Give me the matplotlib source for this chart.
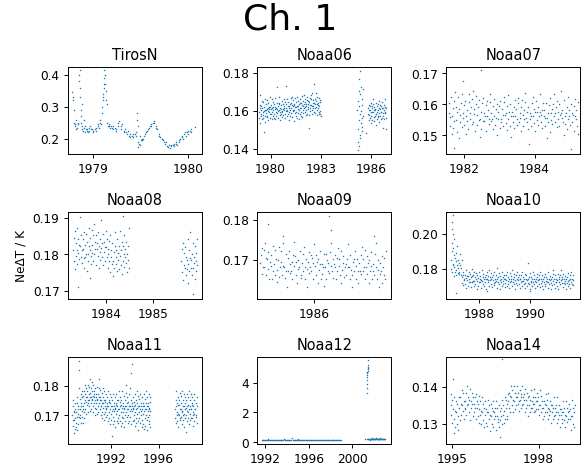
import numpy as np
import matplotlib.pyplot as plt

# NeDT values typed in mK, converted to K below.
# Each row holds the samples of one time bin, in time order.

tiros_t = [1978.79, 1978.80, 1978.81, 1978.82, 1978.84, 1978.86, 1978.87, 1978.88, 1978.89,
           1978.91, 1978.93, 1978.95, 1978.97, 1979.00, 1979.03, 1979.06, 1979.08, 1979.10,
           1979.11, 1979.12, 1979.13, 1979.14, 1979.16, 1979.18, 1979.21, 1979.24, 1979.27,
           1979.30, 1979.33, 1979.36, 1979.39, 1979.42, 1979.45, 1979.47, 1979.48, 1979.50,
           1979.52, 1979.55, 1979.58, 1979.61, 1979.64, 1979.67, 1979.70, 1979.73, 1979.76,
           1979.79, 1979.82, 1979.85, 1979.88, 1979.91, 1979.94, 1979.97, 1980.00, 1980.03,
           1980.08]
tiros_v = [[345, 330], [320, 290], [250, 245], [240, 230, 260], [235, 250, 245],
           [400, 380, 360], [415, 330, 290], [270, 250, 310], [240, 230, 225],
           [235, 260, 220], [240, 230, 225], [230, 220, 235], [225, 240, 230],
           [230, 225, 220], [230, 235, 225], [240, 245, 235], [250, 260, 245],
           [280, 300, 320], [340, 330, 360], [370, 390, 400], [415, 400, 350],
           [370, 320, 310], [250, 240, 245], [240, 235, 240], [235, 240, 230],
           [235, 225, 230], [240, 250, 255], [240, 230, 245], [225, 220, 230],
           [220, 215, 225], [210, 205, 215], [210, 205, 215], [215, 220, 210],
           [280, 260, 240], [190, 175, 185], [180, 210, 195], [200, 195, 200],
           [210, 215, 220], [225, 230, 235], [240, 245, 240], [250, 255, 248],
           [240, 235, 230], [215, 210, 205], [200, 198, 195], [190, 185, 190],
           [178, 175, 180], [172, 176, 180], [180, 185, 178], [185, 190, 180],
           [195, 190, 200], [205, 210, 200], [215, 220, 210], [220, 225, 215],
           [225, 230, 220], [237]]

noaa06_t = [1979.35, 1979.45, 1979.55, 1979.65, 1979.75, 1979.85, 1979.95, 1980.05, 1980.15,
            1980.25, 1980.35, 1980.45, 1980.55, 1980.65, 1980.75, 1980.85, 1980.95, 1981.05,
            1981.15, 1981.25, 1981.35, 1981.45, 1981.55, 1981.65, 1981.75, 1981.85, 1981.95,
            1982.05, 1982.15, 1982.25, 1982.35, 1982.45, 1982.55, 1982.65, 1982.75, 1982.85,
            1982.95, 1985.22, 1985.28, 1985.34, 1985.40, 1985.46, 1985.70, 1985.85, 1985.95,
            1986.05, 1986.15, 1986.25, 1986.35, 1986.45, 1986.55, 1986.65, 1986.75, 1986.85]
noaa06_v = [[156.4, 159.2, 161.7, 163.1, 153.6, 168.3], [158.1, 160.6, 157.3, 162.4, 165.2, 155.5],
            [161.3, 157.8, 159.4, 164.6, 156.2, 149.1], [159.7, 162.2, 160.5, 157.1, 166.4, 154.3],
            [160.2, 158.6, 163.4, 156.7, 161.1, 165.8], [157.5, 161.4, 159.9, 164.2, 155.3, 160.7],
            [162.1, 159.3, 156.4, 161.8, 167.2, 158.5], [160.8, 163.2, 158.1, 155.6, 161.5, 166.3],
            [159.4, 161.9, 164.5, 157.2, 160.3, 156.1], [163.6, 158.3, 160.7, 162.2, 155.8, 166.9],
            [161.2, 159.6, 157.4, 164.1, 160.9, 172.4], [158.7, 162.5, 160.1, 156.3, 163.8, 167.1],
            [160.4, 164.3, 159.1, 161.7, 157.6, 155.2], [162.8, 158.4, 161.1, 165.3, 159.7, 156.6],
            [159.2, 163.5, 160.8, 157.9, 162.3, 166.2], [161.6, 160.2, 164.7, 158.5, 156.4, 173.1],
            [163.3, 159.8, 161.4, 166.1, 157.5, 160.6], [160.1, 162.7, 158.3, 164.4, 161.2, 155.1],
            [162.4, 159.1, 163.8, 160.6, 157.2, 166.5], [161.5, 164.1, 158.7, 162.9, 156.8, 167.3],
            [159.8, 162.3, 165.4, 160.2, 163.7, 154.6], [163.2, 160.4, 158.6, 162.1, 166.7, 157.3],
            [161.9, 164.6, 159.2, 162.5, 156.4, 167.4], [162.3, 158.8, 165.1, 160.7, 163.3, 155.7],
            [160.6, 163.9, 161.3, 166.2, 158.1, 157.4], [164.1, 161.7, 159.5, 162.8, 167.6, 156.9],
            [162.5, 160.3, 165.2, 158.9, 163.4, 168.1], [161.2, 164.8, 159.6, 162.1, 166.3, 157.7],
            [163.7, 160.2, 162.6, 165.5, 158.4, 167.2], [162.1, 165.3, 160.8, 163.6, 157.9, 151.2],
            [164.4, 161.3, 163.1, 159.7, 166.6, 168.5], [163.2, 166.1, 160.5, 162.7, 158.3, 169.4],
            [162.6, 165.7, 161.2, 164.3, 159.5, 174.2], [164.3, 161.6, 163.8, 166.4, 158.7, 169.1],
            [162.2, 165.1, 160.4, 163.5, 167.3, 157.6], [163.1, 161.5, 164.2, 159.4, 166.8, 158.3],
            [162.7, 160.1, 164.6, 158.2, 165.4, 157.1],
            [160.3, 150.2, 143.4, 165.1, 176.6], [139.2, 155.4, 170.3, 162.6, 147.1],
            [141.3, 158.2, 168.7, 181.1, 153.4], [145.5, 160.1, 172.4, 156.3, 149.2],
            [163.2, 151.6, 166.4, 157.1, 171.3], [148.1],
            [158.3, 161.2, 155.4, 163.1, 157.6, 160.4], [160.5, 156.2, 162.7, 159.1, 164.3, 153.6],
            [157.2, 161.6, 159.4, 155.1, 162.3, 166.2], [159.6, 163.3, 156.5, 160.2, 154.4, 161.8],
            [161.1, 157.4, 160.6, 164.2, 158.3, 152.5], [158.5, 162.3, 155.6, 159.2, 163.6, 157.1],
            [160.2, 156.7, 161.3, 158.8, 165.1, 154.2], [157.4, 160.7, 163.2, 159.3, 155.5, 162.6],
            [159.1, 161.5, 156.3, 164.4, 158.6, 151.2], [161.3, 157.2, 160.5, 155.7, 163.1, 166.4],
            [158.6, 162.2, 159.4, 156.1, 161.7, 150.3]]

noaa07_t = [1981.60, 1981.70, 1981.80, 1981.90, 1982.00, 1982.10, 1982.20, 1982.30, 1982.40,
            1982.50, 1982.60, 1982.70, 1982.80, 1982.90, 1983.00, 1983.10, 1983.20, 1983.30,
            1983.40, 1983.50, 1983.60, 1983.70, 1983.80, 1983.90, 1984.00, 1984.10, 1984.20,
            1984.30, 1984.40, 1984.50, 1984.60, 1984.70, 1984.80, 1984.90, 1985.00, 1985.10,
            1985.20, 1982.48, 1981.98, 1981.70]
noaa07_v = [[157.2, 160.4, 153.1, 155.8, 162.3, 150.6], [156.3, 158.7, 152.4, 161.2, 154.6, 164.1],
            [155.1, 159.3, 157.6, 151.2, 162.4, 149.3], [158.4, 154.2, 156.7, 160.3, 152.6, 163.2],
            [155.6, 157.1, 153.4, 159.8, 161.2, 150.4], [156.2, 154.7, 158.3, 152.1, 160.6, 163.4],
            [157.3, 155.4, 159.1, 153.6, 161.7, 164.2], [154.2, 156.8, 158.4, 151.3, 160.2, 162.6],
            [156.7, 153.3, 159.2, 155.1, 161.4, 149.6], [155.3, 157.6, 152.2, 160.4, 154.8, 162.1],
            [157.1, 154.6, 156.3, 159.7, 151.4, 161.2], [156.4, 158.2, 153.7, 155.3, 160.6, 163.3],
            [154.6, 157.3, 155.2, 159.4, 152.1, 161.6], [156.1, 153.4, 158.6, 155.7, 160.2, 150.2],
            [157.4, 155.2, 159.6, 152.3, 161.1, 154.4], [155.2, 158.4, 156.6, 153.1, 160.7, 162.3],
            [156.6, 154.1, 157.3, 159.4, 151.6, 163.1], [155.4, 157.7, 153.2, 160.1, 156.3, 149.4],
            [157.6, 154.3, 156.1, 159.2, 152.4, 161.4], [156.2, 158.6, 155.3, 153.4, 160.3, 162.2],
            [154.3, 157.2, 155.6, 159.1, 151.3, 161.3], [156.5, 153.2, 158.1, 155.4, 160.6, 163.6],
            [155.7, 157.4, 154.2, 159.3, 152.2, 147.1], [157.1, 155.3, 156.4, 153.2, 160.4, 162.5],
            [156.3, 158.5, 154.1, 157.6, 151.4, 161.2], [155.1, 157.6, 153.3, 159.2, 156.4, 163.3],
            [157.4, 154.2, 156.6, 158.1, 152.5, 160.3], [156.2, 158.3, 155.6, 153.1, 160.5, 149.2],
            [155.6, 157.2, 154.3, 159.7, 151.1, 162.2], [157.3, 155.1, 158.4, 153.6, 160.2, 163.4],
            [156.1, 154.4, 157.2, 159.3, 152.6, 161.1], [155.3, 157.6, 153.2, 160.1, 156.5, 164.3],
            [157.2, 155.6, 158.1, 154.3, 161.4, 150.1], [156.4, 153.6, 157.3, 159.1, 152.2, 162.4],
            [155.2, 158.3, 156.1, 153.4, 160.2, 145.5], [157.1, 154.2, 156.7, 159.4, 151.3, 161.6],
            [156.3, 158.1, 155.4, 153.2, 160.6, 150.4], [171.0], [167.5], [146.0]]

noaa08_t = [1983.32, 1983.37, 1983.42, 1983.47, 1983.52, 1983.57, 1983.62, 1983.67, 1983.72,
            1983.77, 1983.82, 1983.87, 1983.92, 1983.97, 1984.02, 1984.07, 1984.12, 1984.17,
            1984.22, 1984.27, 1984.32, 1984.37, 1984.42, 1984.47, 1983.40, 1983.65, 1984.35,
            1985.62, 1985.67, 1985.72, 1985.77, 1985.82, 1985.87, 1985.92, 1985.85]
noaa08_v = [[181.3, 178.2, 184.6, 176.1, 186.4], [183.1, 179.6, 181.2, 187.3, 177.4],
            [180.4, 184.2, 178.7, 182.6, 190.1], [182.2, 179.3, 185.4, 177.6, 181.1],
            [181.6, 184.3, 179.1, 186.2, 176.3], [179.4, 182.7, 180.2, 185.6, 175.4],
            [183.4, 180.1, 178.3, 182.2, 187.1], [181.2, 184.6, 179.7, 177.3, 186.6],
            [182.6, 180.4, 185.2, 178.1, 188.4], [180.1, 183.3, 181.6, 177.2, 185.3],
            [183.2, 181.4, 179.6, 186.1, 176.2], [182.4, 184.1, 180.6, 178.4, 189.3],
            [181.7, 183.2, 179.3, 185.6, 177.1], [183.3, 180.6, 182.1, 178.2, 186.3],
            [182.1, 179.4, 184.3, 181.6, 176.4], [180.2, 183.6, 178.1, 185.2, 175.3],
            [179.3, 181.2, 177.4, 183.1, 174.2], [178.1, 180.6, 176.3, 182.4, 186.1],
            [177.4, 181.3, 179.2, 175.6, 184.2], [180.3, 178.4, 182.2, 176.1, 186.4],
            [179.6, 181.1, 177.2, 183.4, 174.6], [178.2, 182.4, 180.1, 176.6, 185.3],
            [181.4, 179.2, 177.6, 183.3, 175.2], [180.2, 178.6, 182.3, 176.4, 187.2],
            [171.2], [173.5], [190.5],
            [178.3, 175.2, 181.4, 173.1, 183.2], [177.2, 180.4, 176.3, 182.1, 174.3],
            [179.4, 176.1, 178.6, 184.2, 172.3], [177.3, 181.2, 175.4, 179.1, 186.2],
            [178.6, 176.3, 180.2, 174.4, 183.1], [176.2, 179.3, 177.6, 182.3, 173.2],
            [178.1, 175.6, 180.4, 177.2, 184.1], [169.2]]

noaa09_t = [1985.08, 1985.14, 1985.20, 1985.26, 1985.32, 1985.38, 1985.44, 1985.50, 1985.56,
            1985.62, 1985.68, 1985.74, 1985.80, 1985.86, 1985.92, 1985.98, 1986.04, 1986.10,
            1986.16, 1986.22, 1986.28, 1986.34, 1986.40, 1986.46, 1986.52, 1986.58, 1986.64,
            1986.70, 1986.76, 1986.82, 1986.88, 1986.94, 1987.00, 1987.06, 1987.12, 1987.18,
            1987.24, 1986.27, 1985.19, 1986.30, 1985.45, 1987.05]
noaa09_v = [[169.3, 171.2, 166.4, 173.1, 168.2], [172.4, 168.1, 174.3, 166.2, 170.6],
            [170.2, 167.6, 172.1, 165.3, 169.4], [168.6, 171.3, 165.2, 173.4, 167.1],
            [169.1, 166.3, 172.6, 170.2, 164.4], [167.4, 170.1, 165.6, 173.2, 168.3],
            [169.6, 172.2, 166.1, 168.4, 174.2], [168.2, 165.4, 171.6, 167.3, 163.2],
            [170.4, 167.2, 172.3, 166.6, 169.1], [167.1, 169.4, 165.3, 171.2, 174.4],
            [168.4, 171.1, 166.2, 169.6, 164.1], [170.1, 167.6, 168.3, 172.2, 165.4],
            [166.3, 169.2, 171.4, 167.1, 173.3], [168.1, 165.2, 170.3, 167.6, 163.3],
            [169.4, 172.1, 166.6, 168.2, 171.3], [167.2, 170.4, 165.1, 169.3, 174.1],
            [168.6, 166.1, 171.2, 169.4, 164.2], [170.3, 167.4, 169.1, 172.3, 165.2],
            [166.4, 169.1, 168.2, 171.6, 163.4], [168.3, 171.4, 165.3, 170.1, 167.2],
            [169.2, 166.6, 172.1, 168.4, 174.3], [167.3, 170.2, 165.4, 169.1, 171.2],
            [168.1, 165.3, 170.4, 167.2, 173.1], [170.2, 168.4, 166.1, 172.3, 164.2],
            [167.4, 169.2, 171.1, 165.6, 168.3], [169.1, 166.2, 170.3, 168.2, 174.1],
            [168.3, 171.2, 165.1, 167.4, 163.2], [166.2, 169.4, 167.1, 170.2, 172.3],
            [168.4, 165.1, 170.2, 167.3, 164.1], [169.2, 167.1, 171.3, 166.4, 173.2],
            [167.1, 170.3, 168.2, 165.2, 172.4], [168.2, 166.4, 171.1, 169.2, 164.3],
            [170.1, 167.3, 168.4, 172.1, 165.2], [167.3, 169.1, 166.2, 171.4, 174.2],
            [168.1, 165.2, 170.1, 167.4, 163.1], [166.4, 169.2, 167.3, 171.1, 164.2],
            [168.3, 166.1, 170.4, 165.3, 172.2], [181.0], [179.0], [177.5], [176.0], [176.0]]

noaa10_t = [1986.92, 1986.95, 1986.98, 1987.05, 1987.12, 1987.19, 1987.26,
            1987.35, 1987.45, 1987.55, 1987.65, 1987.75, 1987.85, 1987.95, 1988.05, 1988.15,
            1988.25, 1988.35, 1988.45, 1988.55, 1988.65, 1988.75, 1988.85, 1988.95, 1989.05,
            1989.15, 1989.25, 1989.35, 1989.45, 1989.55, 1989.65, 1989.75, 1989.85, 1989.95,
            1990.05, 1990.15, 1990.25, 1990.35, 1990.45, 1990.55, 1990.65, 1990.75, 1990.85,
            1990.95, 1991.05, 1991.15, 1991.25, 1991.35, 1991.45, 1991.55, 1991.65,
            1987.10, 1988.30, 1990.00]
noaa10_v = [[180.0, 185.0, 190.0, 195.0, 200.0], [203.0, 207.0, 211.0, 183.0, 188.0],
            [178.0, 182.0, 192.0, 197.0, 176.0], [181.2, 186.1, 178.4, 189.3, 176.2],
            [184.3, 179.2, 193.1, 182.4, 177.3], [180.4, 185.2, 177.1, 183.6, 188.2],
            [178.3, 182.1, 176.4, 180.2, 185.3],
            [175.3, 172.1, 178.4, 170.6, 176.2, 174.1], [173.4, 176.2, 171.3, 179.1, 174.6, 169.2],
            [176.1, 173.3, 175.6, 170.2, 178.3, 172.4], [174.2, 177.1, 172.6, 175.4, 169.3, 180.1],
            [175.6, 172.3, 176.2, 173.1, 178.4, 170.3], [173.1, 175.4, 171.2, 177.3, 174.2, 168.4],
            [176.3, 173.2, 174.6, 170.1, 178.2, 172.3], [174.4, 172.2, 176.1, 173.3, 169.2, 179.1],
            [173.2, 175.3, 171.4, 177.1, 174.3, 170.2], [175.1, 172.4, 174.2, 176.3, 168.3, 178.2],
            [174.3, 176.1, 172.2, 173.4, 170.1, 179.3], [173.6, 175.2, 171.1, 177.4, 174.1, 169.3],
            [175.2, 173.4, 176.3, 172.1, 178.1, 170.4], [172.4, 174.1, 176.2, 173.2, 169.1, 180.2],
            [174.1, 172.3, 175.4, 171.2, 177.3, 168.2], [173.3, 176.1, 172.2, 174.4, 170.3, 178.1],
            [175.4, 173.1, 171.3, 176.2, 174.2, 169.4], [174.2, 172.1, 176.4, 173.3, 178.2, 170.1],
            [173.1, 175.2, 171.4, 174.3, 169.2, 177.4], [172.2, 174.4, 176.1, 173.1, 170.2, 179.2],
            [174.3, 172.2, 175.1, 171.4, 177.2, 168.1], [173.4, 176.3, 172.1, 174.2, 170.4, 178.3],
            [175.1, 173.3, 171.2, 176.4, 174.1, 169.2], [174.1, 172.4, 176.2, 173.1, 178.3, 170.2],
            [173.2, 175.1, 171.3, 174.4, 169.1, 177.2], [172.1, 174.3, 176.2, 173.4, 170.1, 183.2],
            [174.4, 172.1, 175.2, 171.1, 177.4, 168.2], [173.1, 175.3, 172.4, 174.1, 170.2, 178.1],
            [172.3, 174.1, 171.2, 176.3, 173.2, 169.1], [174.2, 172.4, 175.1, 170.3, 177.1, 173.4],
            [173.3, 171.1, 174.2, 176.4, 169.3, 178.2], [172.1, 174.3, 170.2, 173.1, 176.2, 168.4],
            [174.1, 172.2, 175.3, 171.4, 177.2, 170.1], [173.2, 175.1, 172.3, 174.4, 169.2, 178.3],
            [172.4, 174.2, 171.1, 176.1, 173.3, 168.2], [174.3, 172.1, 175.2, 170.4, 177.1, 179.2],
            [173.1, 171.3, 174.4, 176.2, 169.1, 172.2], [172.2, 174.1, 170.3, 173.4, 177.2, 168.1],
            [174.1, 172.3, 175.4, 171.2, 176.3, 179.1], [173.4, 175.2, 172.1, 174.3, 169.4, 177.1],
            [172.1, 174.4, 171.3, 173.2, 176.1, 168.3], [174.2, 172.1, 175.3, 170.2, 177.4, 173.1],
            [173.3, 171.2, 174.1, 176.3, 169.2, 178.4], [172.4, 174.2, 171.1, 173.3, 176.2, 170.4],
            [166.0], [167.0], [167.0]]

noaa11_t = [1988.85, 1989.00, 1989.15, 1989.30, 1989.45, 1989.60, 1989.75, 1989.90, 1990.05,
            1990.20, 1990.35, 1990.50, 1990.65, 1990.80, 1990.95, 1991.10, 1991.25, 1991.40,
            1991.55, 1991.70, 1991.85, 1992.00, 1992.15, 1992.30, 1992.45, 1992.60, 1992.75,
            1992.90, 1993.05, 1993.20, 1993.35, 1993.50, 1993.65, 1993.80, 1993.95, 1994.10,
            1994.25, 1994.40, 1994.55, 1994.70, 1994.85, 1995.00, 1995.15, 1995.25,
            1997.45, 1997.60, 1997.75, 1997.90, 1998.05, 1998.20, 1998.35, 1998.50, 1998.65,
            1998.80, 1998.95, 1999.15]
noaa11_v = [[170.2, 166.4, 173.1, 168.3, 175.2, 164.1, 171.4], [168.3, 171.2, 165.4, 174.1, 169.2, 172.3, 166.1],
            [171.1, 167.3, 174.2, 169.4, 176.1, 165.2, 172.3], [170.4, 173.1, 167.2, 179.3, 185.1, 188.2, 169.3],
            [172.3, 169.1, 175.4, 170.2, 167.3, 177.1, 173.2], [174.1, 171.3, 176.2, 169.4, 178.1, 172.2, 167.4],
            [173.2, 176.4, 171.1, 178.3, 174.2, 169.1, 180.3], [175.3, 172.1, 177.2, 174.4, 179.1, 170.3, 176.2],
            [176.1, 173.4, 178.2, 175.3, 171.1, 180.2, 174.3], [175.2, 177.3, 173.1, 179.4, 176.2, 171.3, 182.1],
            [177.4, 174.1, 176.3, 172.2, 179.1, 175.4, 181.2], [175.1, 178.2, 173.3, 176.4, 180.1, 171.2, 177.3],
            [176.3, 174.2, 178.1, 172.4, 175.3, 179.2, 170.1], [174.2, 177.1, 172.3, 176.2, 179.4, 175.1, 170.3],
            [175.4, 173.1, 177.3, 171.2, 176.1, 179.3, 182.2], [174.1, 176.3, 172.2, 175.1, 178.4, 170.2, 173.3],
            [173.3, 175.2, 171.1, 177.4, 174.3, 169.2, 179.1], [174.2, 172.4, 176.1, 170.3, 175.2, 178.1, 168.4],
            [173.1, 175.3, 171.2, 174.4, 177.1, 169.3, 172.2], [172.4, 174.1, 170.2, 176.3, 173.2, 168.1, 178.3],
            [173.2, 171.1, 175.3, 169.2, 174.4, 177.2, 167.1], [172.1, 174.3, 170.4, 173.2, 176.1, 168.3, 163.2],
            [171.3, 173.1, 175.2, 169.4, 172.2, 177.3, 167.2], [173.1, 171.4, 174.2, 168.1, 176.3, 172.4, 166.2],
            [172.2, 174.1, 170.3, 173.4, 177.1, 168.2, 175.3], [171.4, 173.2, 169.1, 175.3, 172.1, 167.4, 178.2],
            [172.3, 170.1, 174.4, 168.2, 173.1, 176.3, 166.4], [173.4, 171.2, 175.1, 169.3, 172.4, 178.1, 167.3],
            [171.1, 173.3, 169.2, 174.1, 172.3, 176.4, 166.1], [172.4, 170.2, 175.3, 168.1, 173.2, 177.4, 180.1],
            [173.2, 171.1, 174.3, 169.4, 172.1, 176.2, 167.3], [172.1, 174.4, 170.1, 173.3, 168.2, 177.1, 179.3],
            [171.3, 173.1, 169.4, 175.2, 172.3, 167.1, 184.2], [173.1, 171.3, 174.2, 187.1, 172.4, 176.1, 168.2],
            [172.3, 170.1, 174.4, 168.3, 173.2, 177.1, 166.3], [171.2, 173.4, 169.1, 175.3, 172.2, 167.4, 178.1],
            [172.4, 170.3, 174.1, 168.2, 173.3, 176.4, 165.2], [173.1, 171.2, 175.4, 169.1, 172.3, 177.2, 167.4],
            [171.4, 173.3, 170.1, 174.2, 168.4, 176.1, 166.2], [172.1, 170.4, 174.3, 167.2, 173.1, 177.3, 165.4],
            [171.3, 173.2, 169.1, 175.4, 172.2, 166.3, 178.1], [172.2, 170.1, 174.3, 168.4, 173.1, 176.2, 165.1],
            [171.4, 173.1, 169.3, 174.2, 167.1, 172.4, 177.2], [170.1, 172.3, 168.2, 174.4, 166.1, 171.3, 176.2],
            [172.3, 169.1, 175.2, 167.4, 173.1, 178.3, 170.2], [171.1, 174.3, 168.2, 173.4, 176.1, 170.3, 166.2],
            [173.4, 170.2, 175.1, 168.3, 172.2, 177.4, 169.1], [172.1, 174.2, 169.3, 176.4, 171.2, 167.1, 178.3],
            [171.3, 173.1, 168.4, 175.2, 170.1, 177.3, 166.2], [173.2, 170.4, 174.1, 169.2, 172.3, 176.1, 164.3],
            [172.4, 175.1, 170.2, 173.3, 168.1, 177.2, 171.4], [171.2, 173.4, 169.1, 176.2, 172.3, 167.2, 178.1],
            [173.1, 170.3, 175.2, 168.4, 172.1, 177.3, 169.2], [172.3, 174.1, 169.2, 173.4, 176.3, 170.1, 166.4],
            [171.1, 173.3, 168.2, 175.1, 170.4, 177.2, 172.1], [172.2, 170.1, 174.3, 169.4, 173.2, 176.1, 167.3]]

noaa12_t = [1991.70, 1991.85, 1992.00, 1992.15, 1992.30, 1992.45, 1992.60, 1992.75, 1992.90,
            1993.05, 1993.20, 1993.35, 1993.50, 1993.65, 1993.80, 1993.95, 1994.10, 1994.25,
            1994.40, 1994.55, 1994.70, 1994.85, 1995.00, 1995.15, 1995.30, 1995.45, 1995.60,
            1995.75, 1995.90, 1996.05, 1996.20, 1996.35, 1996.50, 1996.65, 1996.80, 1996.95,
            1997.10, 1997.25, 1997.40, 1997.55, 1997.70, 1997.85, 1998.00, 1998.15, 1998.30,
            1998.45, 1998.60, 1998.75, 1998.90, 2001.20, 2001.40,
            2001.45, 2001.55, 2001.65, 2001.75, 2001.85, 2001.95, 2002.05, 2002.15, 2002.25,
            2002.35, 2002.45, 2002.55, 2002.65, 2002.75, 2002.85, 2002.95]
noaa12_v = [[170, 180], [175, 170], [180, 172], [172, 250], [176, 171], [170, 178],
            [174, 180], [171, 176], [178, 172], [175, 170], [172, 178], [180, 171],
            [171, 176], [178, 250], [173, 179], [176, 170], [170, 175], [178, 172],
            [172, 260], [175, 179], [171, 174], [177, 172], [174, 250], [170, 176],
            [178, 171], [172, 176], [175, 170], [170, 178], [176, 172], [172, 175],
            [178, 170], [171, 176], [175, 172], [170, 177], [176, 171], [172, 175],
            [178, 170], [171, 176], [175, 172], [170, 177], [176, 171], [172, 175],
            [178, 170], [171, 176], [175, 172], [170, 177], [176, 171], [172, 175],
            [174, 171], [200],
            [3300, 3600, 3900, 4150, 4350, 4500, 4620, 4720, 4800, 4880, 4950, 5050, 5200, 5500],
            [190, 220, 250], [200, 230, 180], [210, 250, 190], [230, 200, 260], [190, 220, 240],
            [210, 250, 200], [230, 190, 220], [200, 240, 260], [220, 190, 230], [250, 210, 200],
            [190, 230, 220], [240, 200, 260], [210, 220, 190], [230, 250, 200], [200, 220, 240],
            [210, 190, 230]]

noaa14_t = [1995.00, 1995.10, 1995.20, 1995.30, 1995.40, 1995.50, 1995.60, 1995.70, 1995.80,
            1995.90, 1996.00, 1996.10, 1996.20, 1996.30, 1996.40, 1996.50, 1996.60, 1996.70,
            1996.80, 1996.90, 1997.00, 1997.10, 1997.20, 1997.30, 1997.40, 1997.50, 1997.60,
            1997.70, 1997.80, 1997.90, 1998.00, 1998.10, 1998.20, 1998.30, 1998.40, 1998.50,
            1998.60, 1998.70, 1998.80, 1998.90, 1999.00, 1999.10, 1999.20,
            1996.75, 1996.65, 1995.08]
noaa14_v = [[135.2, 138.1, 132.4, 136.3, 130.2, 142.1], [134.1, 131.3, 137.2, 133.4, 129.1, 136.2],
            [133.3, 130.1, 135.4, 132.2, 128.3, 137.1], [134.2, 137.3, 131.1, 135.4, 132.3, 139.2],
            [135.1, 133.4, 138.2, 131.3, 136.1, 134.3], [136.2, 134.1, 138.3, 132.4, 135.2, 140.1],
            [135.3, 137.1, 133.2, 136.4, 131.1, 139.3], [136.1, 134.3, 138.2, 135.4, 132.1, 137.3],
            [135.4, 133.1, 137.3, 134.2, 131.4, 138.1], [134.3, 136.2, 132.1, 135.3, 130.2, 137.4],
            [134.1, 132.3, 136.2, 133.4, 130.1, 137.2], [133.2, 135.4, 131.1, 134.3, 129.2, 136.1],
            [132.4, 134.1, 130.3, 133.2, 129.4, 136.3], [133.1, 131.4, 135.2, 132.3, 128.1, 135.4],
            [132.2, 134.3, 130.1, 133.4, 129.2, 136.1], [133.3, 131.2, 134.4, 132.1, 128.3, 136.2],
            [132.1, 134.2, 130.4, 131.3, 135.1, 129.2], [133.4, 131.1, 134.3, 132.2, 130.1, 136.4],
            [132.3, 135.1, 130.2, 133.4, 131.3, 137.2], [134.2, 136.4, 132.1, 135.3, 131.2, 138.1],
            [136.1, 138.3, 134.2, 137.4, 133.1, 140.2], [137.3, 135.1, 139.2, 136.4, 133.3, 140.1],
            [136.2, 138.4, 134.1, 137.3, 135.2, 140.3], [137.1, 135.3, 138.2, 136.1, 133.4, 139.2],
            [136.4, 138.1, 134.3, 137.2, 135.1, 140.2], [137.2, 135.4, 138.1, 136.3, 133.2, 139.4],
            [136.3, 134.2, 138.4, 135.1, 137.3, 132.2], [135.2, 137.4, 133.1, 136.3, 134.2, 139.1],
            [136.1, 134.3, 137.2, 135.4, 133.1, 139.3], [135.3, 137.1, 133.4, 136.2, 134.1, 138.2],
            [136.2, 134.1, 137.3, 135.2, 132.4, 139.1], [135.1, 133.3, 137.4, 134.2, 136.1, 131.3],
            [134.4, 136.2, 132.1, 135.3, 133.2, 138.1], [135.2, 133.1, 136.4, 134.3, 131.2, 138.3],
            [134.1, 132.3, 136.2, 133.4, 135.1, 130.2], [133.3, 135.1, 131.2, 134.4, 132.1, 137.2],
            [134.2, 132.4, 135.1, 133.3, 130.2, 137.1], [133.1, 131.3, 135.2, 132.4, 134.1, 129.3],
            [132.3, 134.1, 130.2, 133.3, 131.4, 136.2], [133.2, 131.1, 134.4, 132.3, 129.2, 136.1],
            [132.1, 134.3, 130.4, 133.1, 131.2, 135.3], [133.4, 131.2, 134.1, 132.2, 128.4, 136.3],
            [132.2, 134.4, 130.1, 133.3, 129.1, 135.2], [147.5], [126.5], [127.5]]

names = ["TirosN", "Noaa06", "Noaa07", "Noaa08", "Noaa09", "Noaa10", "Noaa11", "Noaa12", "Noaa14"]
times = [tiros_t, noaa06_t, noaa07_t, noaa08_t, noaa09_t, noaa10_t, noaa11_t, noaa12_t, noaa14_t]
values = [tiros_v, noaa06_v, noaa07_v, noaa08_v, noaa09_v, noaa10_v, noaa11_v, noaa12_v, noaa14_v]
bin_width = [0.02, 0.1, 0.1, 0.05, 0.06, 0.1, 0.15, 0.15, 0.1]  # years covered by one row

xlims = [(1978.74, 1980.15), (1979.2, 1987.19), (1981.49, 1985.30),
         (1983.19, 1986.04), (1985.0, 1987.36), (1986.70, 1991.96),
         (1988.42, 1999.64), (1991.23, 2003.6), (1994.81, 1999.44)]
ylims = [(0.153, 0.425), (0.1374, 0.1831), (0.1441, 0.1721),
         (0.1679, 0.1916), (0.1602, 0.1821), (0.1627, 0.2127),
         (0.1604, 0.1896), (-0.11, 5.71), (0.1246, 0.148)]
xtick_years = [[1979, 1980], [1980, 1983, 1986], [1982, 1984],
               [1984, 1985], [1986], [1988, 1990],
               [1992, 1996], [1992, 1996, 2000], [1995, 1998]]
yticks = [[0.2, 0.3, 0.4], [0.14, 0.16, 0.18], [0.15, 0.16, 0.17],
          [0.17, 0.18, 0.19], [0.17, 0.18], [0.18, 0.20],
          [0.17, 0.18], [0, 2, 4], [0.13, 0.14]]
ytick_fmt = ["%.1f", "%.2f", "%.2f", "%.2f", "%.2f", "%.2f", "%.2f", "%d", "%.2f"]

dpi = 87
fig = plt.figure(figsize=(581.3 / dpi, 465.3 / dpi), dpi=dpi)
fig.suptitle("Ch. 1", fontsize=30, y=0.995)

lefts = [68, 257, 446]
tops = [67, 212, 357]
W, H = 134, 87

for i in range(9):
    r, c = divmod(i, 3)
    ax = fig.add_axes([lefts[c] / 581, 1 - (tops[r] + H) / 465, W / 581, H / 465])
    t, y = [], []
    for tt, row in zip(times[i], values[i]):
        n = len(row)
        # samples of a bin are spread over the bin in the order they were listed
        for k, v in enumerate(row):
            t.append(tt + (k - (n - 1) / 2) * bin_width[i] / n)
            y.append(v / 1000.0)
    ax.scatter(t, y, s=1.5, color="#1f77b4", linewidths=0)
    ax.set_xlim(*xlims[i])
    ax.set_ylim(*ylims[i])
    ax.set_xticks(xtick_years[i])
    ax.set_xticklabels([str(x) for x in xtick_years[i]])
    ax.set_yticks(yticks[i])
    ax.set_yticklabels([ytick_fmt[i] % v for v in yticks[i]])
    ax.set_title(names[i])
    if i == 3:
        ax.set_ylabel("NeΔT / K")

plt.savefig("out.png", dpi=dpi)
